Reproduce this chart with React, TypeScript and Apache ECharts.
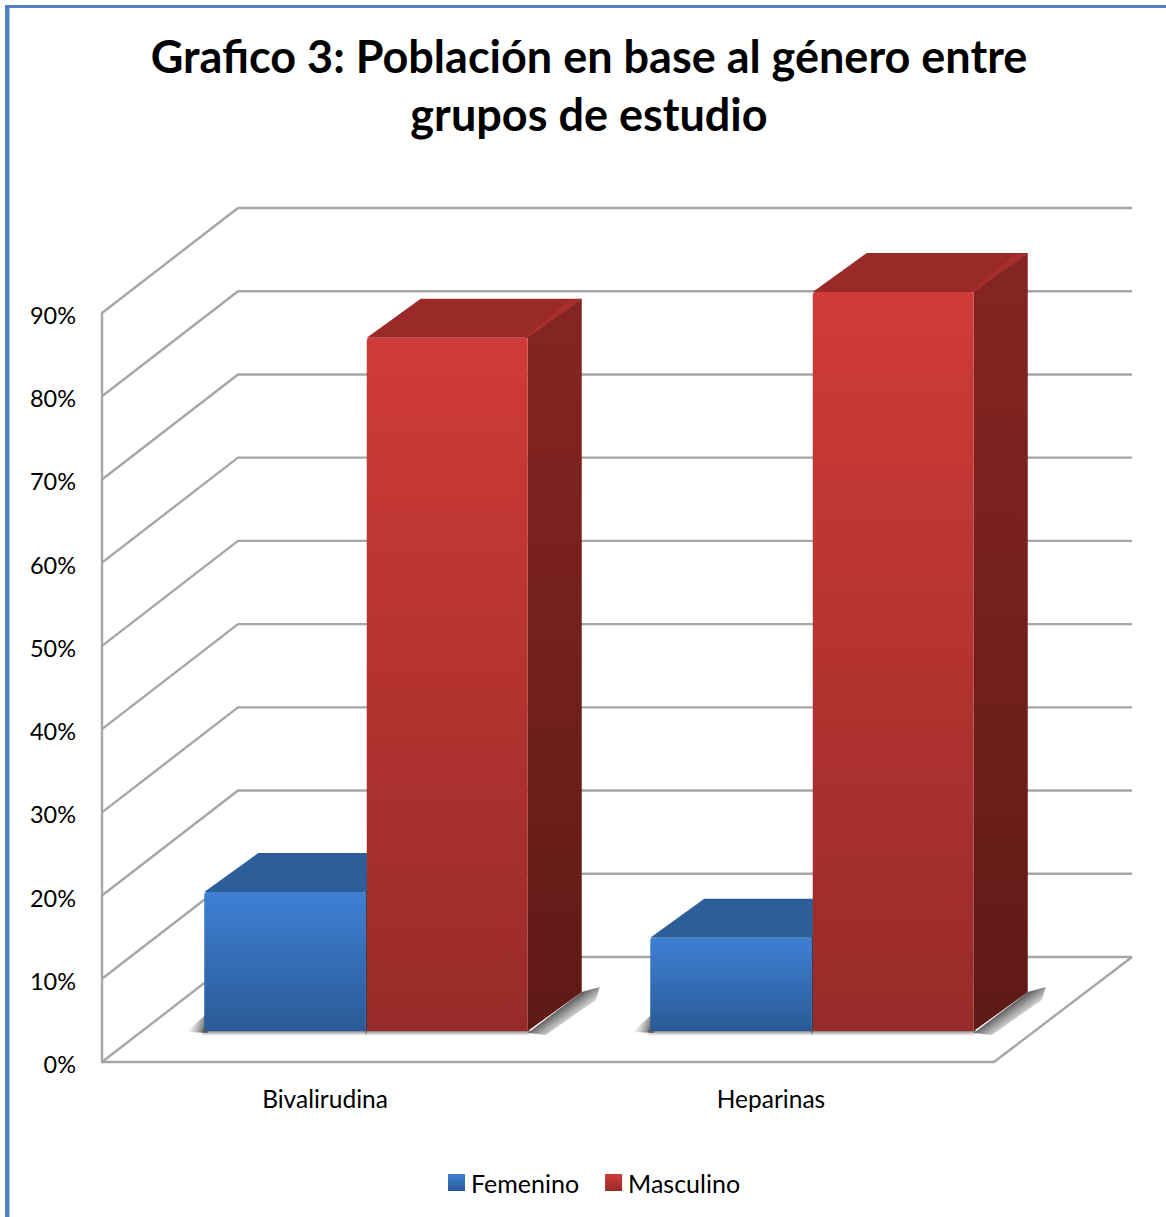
import React, { useEffect, useRef } from "react";
import * as echarts from "echarts";

const titleText = "Grafico 3: Población en base al género entre\ngrupos de estudio";
const categories = ["Bivalirudina", "Heparinas"];
const femenino = [16.7, 11.2];
const masculino = [83.3, 88.8];
const percentTicks = [0, 10, 20, 30, 40, 50, 60, 70, 80, 90];

const FONT = "Lato";
const GRID_LINE = "#a6a6a6";

// Wall depth in pixels, from the front plane to the back wall.
const WALL_DX = 136;
const WALL_DY = -105;
// Placement of the bars inside that depth, and their own depth.
const BAR_OFFSET_X = 41;
const BAR_OFFSET_Y = -31;
const BAR_DX = 54;
const BAR_DY = -39;
const BAR_WIDTH_RATIO = 0.361;
const BAR_GAP = 1.5;

const vGrad = (from: string, to: string) =>
  new echarts.graphic.LinearGradient(0, 0, 0, 1, [
    { offset: 0, color: from },
    { offset: 1, color: to },
  ]);

// Gradient in page coordinates, used for the soft floor shadows.
const fade = (x1: number, y1: number, x2: number, y2: number, strength: number) =>
  new echarts.graphic.LinearGradient(
    x1,
    y1,
    x2,
    y2,
    [
      { offset: 0, color: `rgba(70,70,70,${strength})` },
      { offset: 1, color: "rgba(120,120,120,0)" },
    ],
    true
  );

type Palette = {
  front: [string, string];
  side: [string, string];
  top: string;
  edge: string;
};

const bluePalette: Palette = {
  front: ["#3f80d4", "#2a5a97"],
  side: ["#1f4a7e", "#173a63"],
  top: "#2c5f99",
  edge: "#32699f",
};
const redPalette: Palette = {
  front: ["#d03b38", "#972b29"],
  side: ["#862521", "#5f1a16"],
  top: "#992a27",
  edge: "#a62e2c",
};

// One box: floor shadow, then top, side and front faces.
const boxRenderer = (palette: Palette, side: "left" | "right") => (_params: any, api: any) => {
  const idx = api.value(0);
  const base = api.coord([idx, 0]);
  const top = api.coord([idx, api.value(1)]);
  const band = api.size([1, 0])[0];
  const w = band * BAR_WIDTH_RATIO;
  const cx = base[0] + BAR_OFFSET_X;
  const x0 = side === "left" ? cx - w - BAR_GAP / 2 : cx + BAR_GAP / 2;
  const x1 = x0 + w;
  const yb = base[1] + BAR_OFFSET_Y;
  const yt = top[1] + BAR_OFFSET_Y;

  const cornerX = x1 + BAR_DX;
  const cornerY = yb + BAR_DY;
  const shadow =
    side === "left"
      ? {
          type: "polygon",
          shape: {
            points: [
              [x0 - 18, yb + 1],
              [x0 + 1, yb - 16],
              [x0 + 4, yb + 2],
            ],
          },
          style: { fill: fade(x0 + 2, yb - 3, x0 - 14, yb - 8, 0.9) },
        }
      : {
          type: "polygon",
          shape: {
            points: [
              [x1, yb + 2],
              [cornerX, cornerY],
              [cornerX + 18, cornerY - 5],
              [cornerX + 14, cornerY + 8],
              [x1 + 18, yb + 4],
            ],
          },
          style: {
            fill: fade(x1 + BAR_DX / 2, yb + BAR_DY / 2, x1 + BAR_DX / 2 + 13, yb + BAR_DY / 2 + 18, 0.9),
          },
        };

  return {
    type: "group",
    children: [
      shadow,
      {
        type: "rect",
        shape: { x: x0 - 2, y: yb - 1, width: w + 4, height: 6 },
        style: { fill: vGrad("rgba(70,70,70,0.9)", "rgba(150,150,150,0)") },
      },
      {
        type: "polygon",
        shape: {
          points: [
            [x0, yt],
            [x0 + BAR_DX, yt + BAR_DY],
            [cornerX, yt + BAR_DY],
            [x1, yt],
          ],
        },
        style: { fill: palette.top },
      },
      {
        type: "polygon",
        shape: {
          points: [
            [x1 - 3, yt],
            [cornerX - 12, yt + BAR_DY + 1],
            [cornerX, yt + BAR_DY],
            [x1, yt + 1],
          ],
        },
        style: { fill: palette.edge },
      },
      {
        type: "polygon",
        shape: {
          points: [
            [x1, yt],
            [cornerX, yt + BAR_DY],
            [cornerX, cornerY],
            [x1, yb],
          ],
        },
        style: { fill: vGrad(palette.side[0], palette.side[1]) },
      },
      {
        type: "rect",
        shape: { x: x0, y: yt, width: w, height: yb - yt, r: [3, 3, 0, 0] },
        style: { fill: vGrad(palette.front[0], palette.front[1]) },
      },
    ],
  };
};

// Each tick runs along the left wall, then across the back wall.
const wallLineRenderer = (params: any, api: any) => {
  const front = api.coord([0, api.value(0)]);
  const rect = params.coordSys;
  const frontX = rect.x;
  const backRight = rect.x + rect.width + WALL_DX + 2;
  const y = front[1];
  return {
    type: "polyline",
    shape: {
      points: [
        [frontX, y],
        [frontX + WALL_DX, y + WALL_DY],
        [backRight, y + WALL_DY],
      ],
    },
    style: { stroke: GRID_LINE, lineWidth: 2.4, fill: "none" },
  };
};

// Right edge of the floor, from the front corner back to the wall.
const floorEdgeRenderer = (params: any, api: any) => {
  const rect = params.coordSys;
  const y = api.coord([0, 0])[1];
  const x = rect.x + rect.width;
  return {
    type: "line",
    shape: { x1: x, y1: y, x2: x + WALL_DX + 2, y2: y + WALL_DY },
    style: { stroke: GRID_LINE, lineWidth: 2.4 },
  };
};

export default function App() {
  const ref = useRef<HTMLDivElement>(null);

  useEffect(() => {
    const chart = echarts.init(ref.current!, null, { renderer: "svg" });
    chart.setOption({
      animation: false,
      backgroundColor: "#ffffff",
      title: {
        text: titleText,
        left: 584,
        top: 22,
        textAlign: "center",
        textStyle: {
          fontFamily: FONT,
          fontWeight: "bold",
          fontSize: 45,
          lineHeight: 58,
          color: "#000000",
        },
      },
      graphic: [
        { type: "rect", shape: { x: 5, y: 5, width: 1161, height: 3 }, style: { fill: "#4f81bd" }, z: 10 },
        { type: "rect", shape: { x: 5, y: 5, width: 4.5, height: 1212 }, style: { fill: "#4f81bd" }, z: 10 },
      ],
      legend: {
        data: ["Femenino", "Masculino"],
        left: 443,
        top: 1165,
        icon: "rect",
        itemWidth: 17,
        itemHeight: 17,
        itemGap: 26,
        textStyle: { fontFamily: FONT, fontSize: 25, color: "#000000", padding: [2, 0, 0, 1] },
      },
      grid: { left: 102, top: 313, width: 892, height: 749 },
      xAxis: {
        type: "category",
        data: categories,
        axisLine: { show: true, lineStyle: { color: GRID_LINE, width: 2.4 } },
        axisTick: { show: false },
        splitLine: { show: false },
        axisLabel: { fontFamily: FONT, fontSize: 24.5, color: "#000000", margin: 24 },
      },
      yAxis: {
        type: "value",
        min: percentTicks[0],
        max: percentTicks[percentTicks.length - 1],
        interval: 10,
        axisLine: { show: true, lineStyle: { color: GRID_LINE, width: 2.4 } },
        axisTick: { show: false },
        splitLine: { show: false },
        axisLabel: {
          formatter: "{tick|{value}%}",
          margin: 26,
          rich: {
            tick: {
              fontFamily: FONT,
              fontSize: 23.5,
              color: "#000000",
              padding: [4, 0, 0, 0],
            },
          },
        },
      },
      series: [
        {
          name: "wall",
          type: "custom",
          silent: true,
          z: 1,
          clip: false,
          renderItem: wallLineRenderer,
          encode: { y: 0 },
          data: percentTicks.map((t) => [t]),
        },
        {
          name: "floor",
          type: "custom",
          silent: true,
          z: 1,
          clip: false,
          renderItem: floorEdgeRenderer,
          data: [[0]],
        },
        {
          name: "Femenino",
          type: "custom",
          z: 3,
          clip: false,
          itemStyle: { color: vGrad(bluePalette.front[0], bluePalette.front[1]) },
          renderItem: boxRenderer(bluePalette, "left"),
          encode: { x: 0, y: 1 },
          data: femenino.map((v, i) => [i, v]),
        },
        {
          name: "Masculino",
          type: "custom",
          z: 4,
          clip: false,
          itemStyle: { color: vGrad(redPalette.front[0], redPalette.front[1]) },
          renderItem: boxRenderer(redPalette, "right"),
          encode: { x: 0, y: 1 },
          data: masculino.map((v, i) => [i, v]),
        },
      ],
    });
    return () => chart.dispose();
  }, []);

  return <div ref={ref} style={{ position: "absolute", left: 0, top: 0, width: 1166, height: 1217 }} />;
}
